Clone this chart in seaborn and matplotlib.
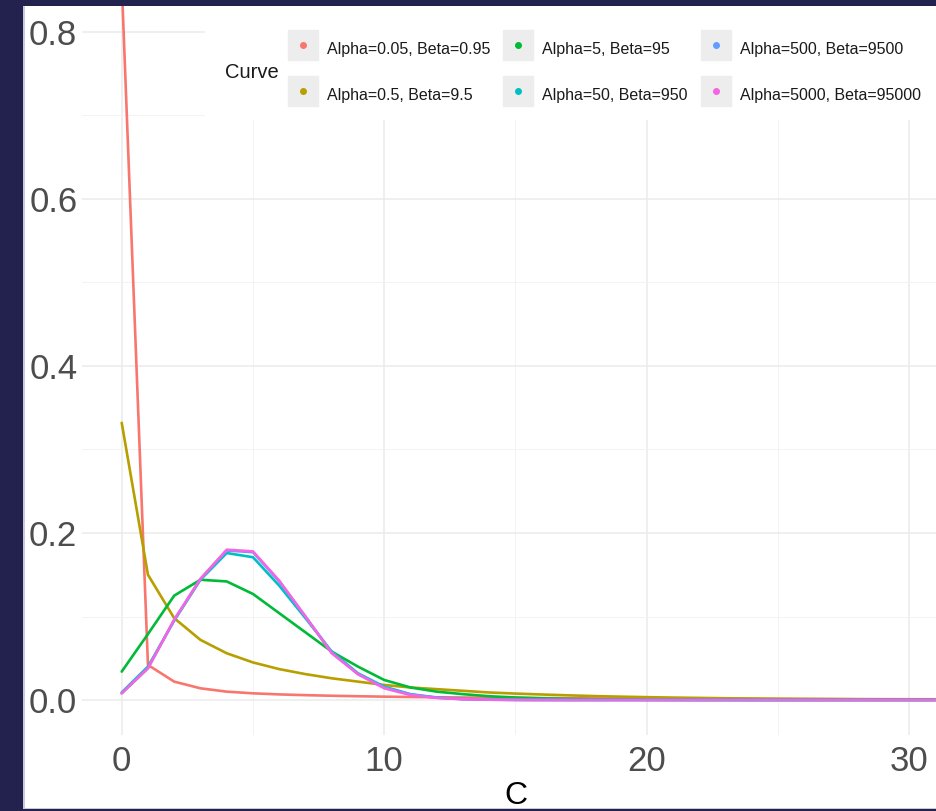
import numpy as np
import pandas as pd
import matplotlib
matplotlib.use("Agg")
import matplotlib.pyplot as plt
import seaborn as sns
from matplotlib.lines import Line2D
from matplotlib.patches import Rectangle
from matplotlib.legend_handler import HandlerTuple
from matplotlib.ticker import MultipleLocator

# ---------------- data ----------------
c_values = list(range(0, 32))

curve_names = [
    "Alpha=0.05, Beta=0.95",
    "Alpha=0.5, Beta=9.5",
    "Alpha=5, Beta=95",
    "Alpha=50, Beta=950",
    "Alpha=500, Beta=9500",
    "Alpha=5000, Beta=95000",
]

p_a005 = [0.86, 0.042, 0.022, 0.014, 0.010, 0.008, 0.0067, 0.0058, 0.0051, 0.0045,
          0.0040, 0.0036, 0.0033, 0.0030, 0.0027, 0.0025, 0.0023, 0.0021, 0.0019, 0.0018,
          0.0017, 0.0016, 0.0015, 0.0014, 0.0013, 0.0012, 0.0011, 0.0011, 0.0010, 0.0010,
          0.0009, 0.0009]
p_a05 = [0.332, 0.150, 0.098, 0.072, 0.056, 0.045, 0.037, 0.031, 0.026, 0.022,
         0.018, 0.015, 0.013, 0.011, 0.009, 0.0077, 0.0066, 0.0056, 0.0047, 0.0040,
         0.0034, 0.0029, 0.0025, 0.0021, 0.0018, 0.0015, 0.0013, 0.0011, 0.0009, 0.0008,
         0.0007, 0.0006]
p_a5 = [0.034, 0.079, 0.125, 0.144, 0.142, 0.127, 0.104, 0.081, 0.058, 0.040,
        0.024, 0.015, 0.010, 0.007, 0.0045, 0.0030, 0.0020, 0.0013, 0.0008, 0.0005,
        0.0003, 0.0002, 0.0001, 0.0001, 0.0, 0.0, 0.0, 0.0, 0.0, 0.0,
        0.0, 0.0]
p_a50 = [0.009, 0.040, 0.095, 0.144, 0.176, 0.171, 0.137, 0.098, 0.058, 0.032,
         0.016, 0.007, 0.003, 0.0012, 0.0005, 0.0002, 0.0001, 0.0, 0.0, 0.0,
         0.0, 0.0, 0.0, 0.0, 0.0, 0.0, 0.0, 0.0, 0.0, 0.0,
         0.0, 0.0]
p_a500 = [0.008, 0.038, 0.096, 0.145, 0.179, 0.177, 0.142, 0.100, 0.057, 0.031,
          0.015, 0.0065, 0.0027, 0.0010, 0.0004, 0.0001, 0.0, 0.0, 0.0, 0.0,
          0.0, 0.0, 0.0, 0.0, 0.0, 0.0, 0.0, 0.0, 0.0, 0.0,
          0.0, 0.0]
p_a5000 = [0.008, 0.038, 0.096, 0.145, 0.180, 0.178, 0.143, 0.100, 0.056, 0.031,
           0.014, 0.006, 0.0025, 0.0010, 0.0004, 0.0001, 0.0, 0.0, 0.0, 0.0,
           0.0, 0.0, 0.0, 0.0, 0.0, 0.0, 0.0, 0.0, 0.0, 0.0,
           0.0, 0.0]

x_ticks = [0, 10, 20, 30]
y_ticks = [0.0, 0.2, 0.4, 0.6, 0.8]
y_tick_labels = ["0.0", "0.2", "0.4", "0.6", "0.8"]

palette = ["#F8766D", "#B79F00", "#00BA38", "#00BFC4", "#619CFF", "#F564E3"]

series = [p_a005, p_a05, p_a5, p_a50, p_a500, p_a5000]
df = pd.concat(
    [pd.DataFrame({"C": c_values, "Probability": s, "Curve": n}) for n, s in zip(curve_names, series)],
    ignore_index=True,
)

# ---------------- figure ----------------
sns.set_theme(style="white")
plt.rcParams["font.family"] = ["Liberation Sans", "DejaVu Sans"]

W, H = 936, 811
fig = plt.figure(figsize=(W / 100, H / 100), dpi=100, facecolor="white")

# panel geometry in pixels
x0_px, px_per_unit = 121.7, 26.25
left_px = x0_px - 1.5 * px_per_unit
right_px = x0_px + 31.5 * px_per_unit
y0_px, px_per_val = 700.0, 835.0
bottom_px = 735.0
ax = fig.add_axes([left_px / W, (H - bottom_px) / H, (right_px - left_px) / W, bottom_px / H])
ax.set_facecolor("none")

sns.lineplot(data=df, x="C", y="Probability", hue="Curve", hue_order=curve_names,
             palette=palette, linewidth=1.9, ax=ax, legend=False, zorder=2)

ax.set_xlim(-1.5, 31.5)
ax.set_ylim((y0_px - bottom_px) / px_per_val, y0_px / px_per_val)
ax.set_xticks(x_ticks)
ax.set_yticks(y_ticks)
ax.set_yticklabels(y_tick_labels)
ax.xaxis.set_minor_locator(MultipleLocator(5))
ax.yaxis.set_minor_locator(MultipleLocator(0.1))
ax.set_axisbelow(True)
ax.grid(which="major", color="#EBEBEB", linewidth=1.1)
ax.grid(which="minor", color="#F3F3F3", linewidth=0.7)
for s in ax.spines.values():
    s.set_visible(False)
ax.tick_params(axis="both", which="both", length=0, labelsize=25, labelcolor="#4D4D4D")
ax.tick_params(axis="x", pad=7)
ax.tick_params(axis="y", pad=3.6)
ax.set_xlabel("C", fontsize=23, color="black", labelpad=2.5)
ax.set_ylabel("")

# white legend background covering the grid
ax.add_patch(Rectangle((205 / W, 1 - 120 / H), (W - 205) / W, 120 / H,
                       transform=fig.transFigure, facecolor="white", edgecolor="none", zorder=1))

handles = [
    (Line2D([], [], marker="s", markersize=21, color="#EDEDED", linestyle=""),
     Line2D([], [], marker="o", markersize=4, color=c, linestyle=""))
    for c in palette
]
leg = ax.legend(handles, curve_names, handler_map={tuple: HandlerTuple(ndivide=1)},
                ncol=3, fontsize=11.5, frameon=False, loc="upper left",
                bbox_to_anchor=(288 / W, 1 - 37 / H), bbox_transform=fig.transFigure,
                borderpad=0, borderaxespad=0, handlelength=1.9, handleheight=1.9,
                handletextpad=0.55, columnspacing=0.8, labelspacing=1.375)
for t in leg.get_texts():
    t.set_color("#1A1A1A")
fig.text(225 / W, 1 - 72 / H, "Curve", ha="left", va="center", fontsize=14.5, color="#1A1A1A")

# dark navy frame of the screenshot
navy = "#23224F"
fig.patches.append(Rectangle((0, 0), 23 / W, 1, transform=fig.transFigure,
                             facecolor=navy, edgecolor="none", zorder=10))
fig.patches.append(Rectangle((0, 1 - 6 / H), 1, 6 / H, transform=fig.transFigure,
                             facecolor=navy, edgecolor="none", zorder=10))
fig.patches.append(Rectangle((0, 0), 1, 2 / H, transform=fig.transFigure,
                             facecolor=navy, edgecolor="none", zorder=10))
fig.patches.append(Rectangle((23 / W, 2 / H), 1.5 / W, 1 - 8 / H, transform=fig.transFigure,
                             facecolor="#C9C8DC", edgecolor="none", zorder=10))
fig.patches.append(Rectangle((23 / W, 2 / H), 1 - 23 / W, 1.2 / H, transform=fig.transFigure,
                             facecolor="#C9C8DC", edgecolor="none", zorder=10))

fig.savefig("out.png", dpi=100, facecolor=fig.get_facecolor())
